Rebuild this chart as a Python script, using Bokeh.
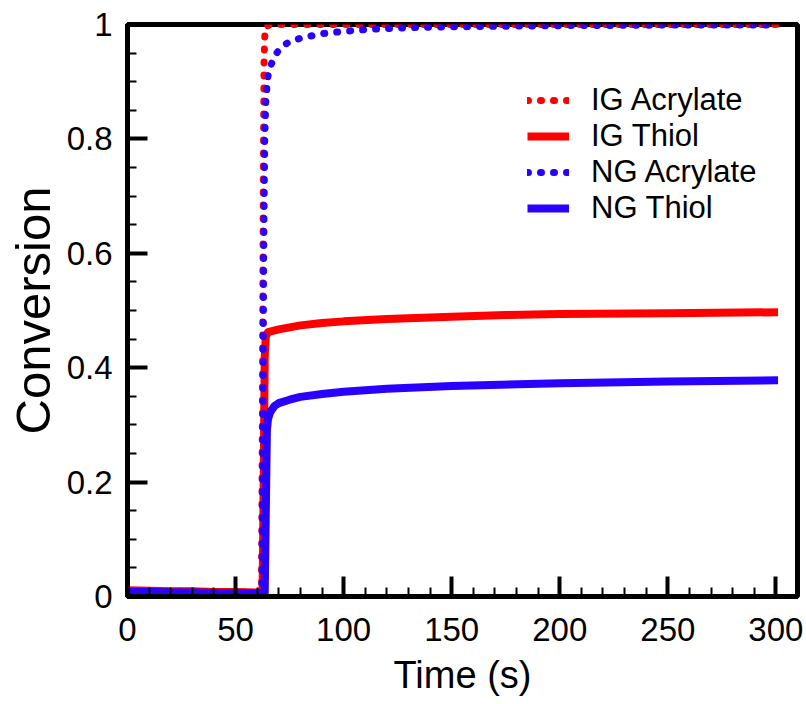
from bokeh.plotting import figure
from bokeh.models import Range1d, FixedTicker, Legend, LegendItem
from bokeh.embed import file_html
from bokeh.resources import INLINE

# ---- data ----
t_ig_acr = [0, 10, 20, 30, 40, 50, 60, 62, 62.4, 62.8, 63.2, 63.6, 64, 66, 70, 100, 150, 200, 250, 301]
ig_acr = [0.010, 0.010, 0.009, 0.009, 0.008, 0.008, 0.007, 0.008, 0.30, 0.70, 0.94, 0.99, 0.997, 0.999, 1.0, 1.0, 1.0, 1.0, 1.0, 1.0]

t_ig_thi = [0, 10, 20, 30, 40, 50, 60, 62.5, 63, 63.5, 64, 65, 70, 80, 90, 100, 120, 150, 175, 200, 250, 301]
ig_thi = [0.011, 0.010, 0.009, 0.009, 0.008, 0.008, 0.007, 0.008, 0.20, 0.42, 0.455, 0.462, 0.467, 0.474, 0.478, 0.481, 0.485, 0.489, 0.492, 0.494, 0.495, 0.497]

t_ng_acr = [0, 10, 20, 30, 40, 50, 60, 62.2, 62.6, 63, 63.5, 64, 65, 66, 68, 70, 72, 75, 80, 85, 90, 100, 110, 120, 135, 150, 175, 200, 250, 301]
ng_acr = [0.009, 0.009, 0.008, 0.008, 0.007, 0.007, 0.006, 0.008, 0.25, 0.60, 0.80, 0.87, 0.91, 0.925, 0.945, 0.955, 0.963, 0.970, 0.976, 0.980, 0.984, 0.988, 0.991, 0.993, 0.995, 0.996, 0.997, 0.998, 0.999, 0.999]

t_ng_thi = [0, 10, 20, 30, 40, 50, 60, 63.5, 64, 64.5, 65, 66, 68, 70, 75, 80, 90, 100, 120, 150, 200, 250, 301]
ng_thi = [0.008, 0.008, 0.007, 0.007, 0.006, 0.006, 0.005, 0.006, 0.15, 0.29, 0.31, 0.322, 0.333, 0.338, 0.344, 0.349, 0.354, 0.358, 0.363, 0.368, 0.373, 0.376, 0.378]

x_ticks = [0, 50, 100, 150, 200, 250, 300]
x_minor = [v for v in range(0, 310, 10) if v % 50 != 0]
y_ticks = [0, 0.2, 0.4, 0.6, 0.8, 1.0]
y_minor = [0.05, 0.1, 0.15, 0.25, 0.3, 0.35, 0.45, 0.5, 0.55, 0.65, 0.7, 0.75, 0.85, 0.9, 0.95]
y_labels = {0: "0", 0.2: "0.2", 0.4: "0.4", 0.6: "0.6", 0.8: "0.8", 1.0: "1"}

RED = "#ff0000"
BLUE = "#2a00ff"
FONT = "Liberation Sans"

p = figure(width=804, height=704, output_backend="svg", toolbar_location=None,
           x_range=Range1d(0, 310), y_range=Range1d(0, 1),
           min_border_left=127, min_border_right=7, min_border_top=24, min_border_bottom=108)
p.grid.visible = False
p.background_fill_color = "white"
p.border_fill_color = "white"
p.outline_line_color = "black"
p.outline_line_width = 5

r1 = p.line(t_ig_acr, ig_acr, line_color=RED, line_width=7, line_dash="1 12", line_cap="round")
r2 = p.line(t_ig_thi, ig_thi, line_color=RED, line_width=8, line_join="round")
r3 = p.line(t_ng_acr, ng_acr, line_color=BLUE, line_width=7, line_dash="1 12", line_cap="round")
r4 = p.line(t_ng_thi, ng_thi, line_color=BLUE, line_width=8, line_join="round")

for ax in (p.xaxis[0], p.yaxis[0]):
    ax.axis_line_width = 5
    ax.major_tick_in = 20
    ax.major_tick_out = 0
    ax.minor_tick_in = 9
    ax.minor_tick_out = 0
    ax.major_tick_line_width = 4
    ax.minor_tick_line_width = 2
    ax.major_label_text_font = FONT
    ax.major_label_text_font_size = "33px"
    ax.major_label_text_color = "black"
    ax.axis_label_text_font = FONT
    ax.axis_label_text_font_style = "normal"
    ax.axis_label_text_color = "black"

p.xaxis[0].axis_label_text_font_size = "38px"
p.yaxis[0].axis_label_text_font_size = "49px"
p.xaxis[0].ticker = FixedTicker(ticks=x_ticks, minor_ticks=x_minor)
p.yaxis[0].ticker = FixedTicker(ticks=y_ticks, minor_ticks=y_minor)
p.yaxis[0].major_label_overrides = y_labels
p.xaxis[0].axis_label = "Time (s)"
p.yaxis[0].axis_label = "Conversion"
p.xaxis[0].major_label_standoff = 21
p.yaxis[0].major_label_standoff = 15
p.xaxis[0].axis_label_standoff = 10
p.yaxis[0].axis_label_standoff = 4

legend = Legend(items=[LegendItem(label="IG Acrylate", renderers=[r1]),
                       LegendItem(label="IG Thiol", renderers=[r2]),
                       LegendItem(label="NG Acrylate", renderers=[r3]),
                       LegendItem(label="NG Thiol", renderers=[r4])],
                location=(400, 370), border_line_alpha=0, background_fill_alpha=0,
                padding=0, margin=0, spacing=0, glyph_width=42, glyph_height=28,
                label_height=28, label_standoff=22,
                label_text_font=FONT, label_text_font_size="31px", label_text_color="black")
p.add_layout(legend)

open("out.html", "w").write(file_html(p, INLINE))
